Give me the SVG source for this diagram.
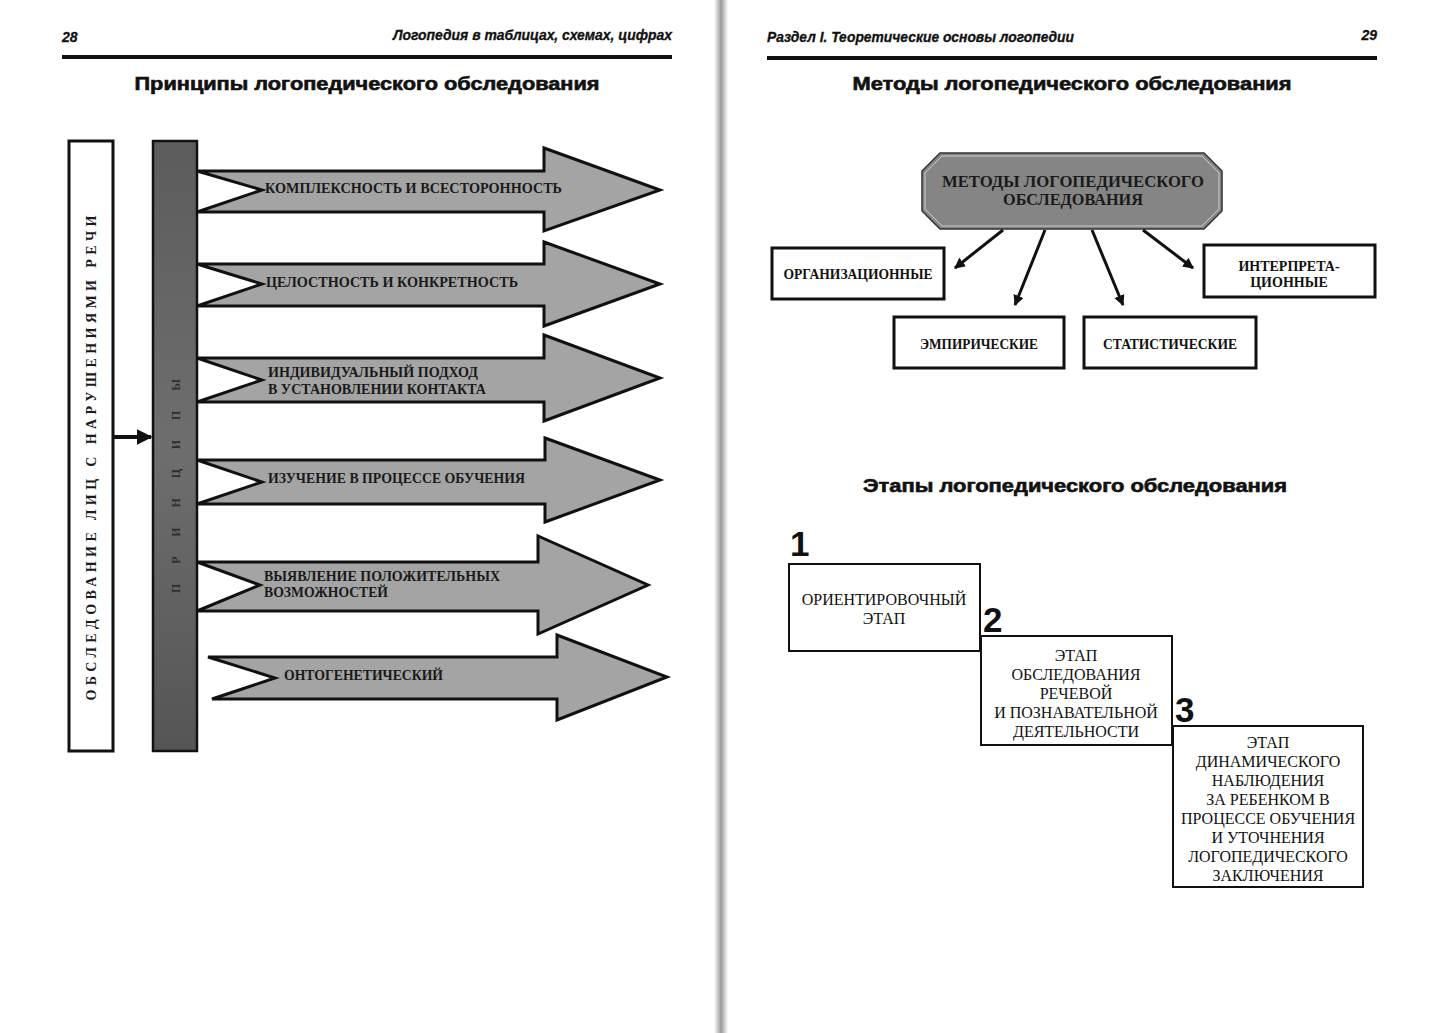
<svg xmlns="http://www.w3.org/2000/svg" width="1429" height="1033" viewBox="0 0 1429 1033">
<defs>
<marker id="ah" viewBox="0 0 10 10" refX="9" refY="5" markerWidth="4" markerHeight="4" orient="auto" markerUnits="strokeWidth">
<path d="M0,0 L10,5 L0,10 z" fill="#111"/>
</marker>
<marker id="ah2" viewBox="0 0 10 10" refX="9" refY="5" markerWidth="3.6" markerHeight="3.6" orient="auto" markerUnits="strokeWidth">
<path d="M0,0 L10,5 L0,10 z" fill="#111"/>
</marker>
<linearGradient id="gut" x1="0" x2="1" y1="0" y2="0">
<stop offset="0" stop-color="#fff"/>
<stop offset="0.5" stop-color="#9a9a9a"/>
<stop offset="1" stop-color="#fff"/>
</linearGradient>
<linearGradient id="barg" x1="0" x2="0" y1="0" y2="1">
<stop offset="0" stop-color="#5c5c5c"/>
<stop offset="0.5" stop-color="#6e6e6e"/>
<stop offset="1" stop-color="#555"/>
</linearGradient>
</defs>
<style>
.hdr{font-family:"Liberation Sans",Arial,sans-serif;font-weight:bold;font-style:italic;font-size:14px;fill:#111;stroke:#111;stroke-width:0.3}
.ttl{font-family:"Liberation Sans",Arial,sans-serif;font-weight:bold;font-size:18px;fill:#111;stroke:#111;stroke-width:0.6}
.arr{fill:#a4a4a4;stroke:#111;stroke-width:3;stroke-linejoin:miter}
.at{font-family:"Liberation Serif","Times New Roman",serif;font-weight:bold;font-size:14.5px;fill:#1a1a1a}
.box{fill:#fff;stroke:#111;stroke-width:3}
.sbox{fill:#fff;stroke:#111;stroke-width:2}
.mt{font-family:"Liberation Serif","Times New Roman",serif;font-weight:bold;font-size:14px;fill:#111;text-anchor:middle}
.st{font-family:"Liberation Serif","Times New Roman",serif;font-size:16px;fill:#111;text-anchor:middle}
.num{font-family:"Liberation Sans",Arial,sans-serif;font-weight:bold;font-size:35px;fill:#111}
.conn{stroke:#111;fill:none}
</style>
<rect x="0" y="0" width="1429" height="1033" fill="#fff"/>
<rect x="714" y="0" width="14" height="1033" fill="url(#gut)"/>

<g id="page-left-header">
<text class="hdr" x="62" y="42">28</text>
<text class="hdr" x="672" y="40" text-anchor="end" textLength="279" lengthAdjust="spacingAndGlyphs">Логопедия в таблицах, схемах, цифрах</text>
<rect x="62" y="55" width="610" height="4" fill="#111"/>
<text class="ttl" x="367" y="90" text-anchor="middle" textLength="465" lengthAdjust="spacingAndGlyphs">Принципы логопедического обследования</text>
</g>

<g id="page-right-header">
<text class="hdr" x="767" y="42" textLength="307" lengthAdjust="spacingAndGlyphs">Раздел I. Теоретические основы логопедии</text>
<text class="hdr" x="1377" y="40" text-anchor="end">29</text>
<rect x="767" y="56" width="610" height="4" fill="#111"/>
<text class="ttl" x="1072" y="90" text-anchor="middle" textLength="439" lengthAdjust="spacingAndGlyphs">Методы логопедического обследования</text>
</g>

<g id="node-obsledovanie">
<rect class="box" x="69" y="141" width="44" height="610" stroke-width="3.5"/>
<text class="at" transform="translate(96,458) rotate(-90)" text-anchor="middle" font-size="14" style="font-size:14px" textLength="485" lengthAdjust="spacing">ОБСЛЕДОВАНИЕ ЛИЦ С НАРУШЕНИЯМИ РЕЧИ</text>
</g>

<g id="node-principy">
<rect x="153" y="141" width="44" height="610" fill="url(#barg)" stroke="#111" stroke-width="2.5"/>
<text class="at" transform="translate(180,486) rotate(-90)" text-anchor="middle" textLength="214" lengthAdjust="spacing" style="fill:#2e2e2e;font-size:12px">ПРИНЦИПЫ</text>
</g>

<g id="principle-1">
<polygon class="arr" points="197,171 544,171 544,148 660,190 544,231 544,212 197,212 262,190"/>
<text class="at" x="265" y="193" textLength="297" lengthAdjust="spacingAndGlyphs">КОМПЛЕКСНОСТЬ И ВСЕСТОРОННОСТЬ</text>
</g>
<g id="principle-2">
<polygon class="arr" points="197,264 544,264 544,242 660,284 544,326 544,306 197,306 262,284"/>
<text class="at" x="266" y="287" textLength="252" lengthAdjust="spacingAndGlyphs">ЦЕЛОСТНОСТЬ И КОНКРЕТНОСТЬ</text>
</g>
<g id="principle-3">
<polygon class="arr" points="197,358 544,358 544,335 660,378 544,421 544,402 197,402 262,380"/>
<text class="at" x="268" y="377" textLength="210" lengthAdjust="spacingAndGlyphs">ИНДИВИДУАЛЬНЫЙ ПОДХОД</text>
<text class="at" x="268" y="394" textLength="218" lengthAdjust="spacingAndGlyphs">В УСТАНОВЛЕНИИ КОНТАКТА</text>
</g>
<g id="principle-4">
<polygon class="arr" points="197,460 545,460 545,438 660,480 545,522 545,504 197,504 262,482"/>
<text class="at" x="268" y="483" textLength="257" lengthAdjust="spacingAndGlyphs">ИЗУЧЕНИЕ В ПРОЦЕССЕ ОБУЧЕНИЯ</text>
</g>
<g id="principle-5">
<polygon class="arr" points="197,562 538,562 538,536 648,585 538,634 538,611 197,611 260,585"/>
<text class="at" x="264" y="581" textLength="236" lengthAdjust="spacingAndGlyphs">ВЫЯВЛЕНИЕ  ПОЛОЖИТЕЛЬНЫХ</text>
<text class="at" x="264" y="597" textLength="124" lengthAdjust="spacingAndGlyphs">ВОЗМОЖНОСТЕЙ</text>
</g>
<g id="principle-6">
<polygon class="arr" points="208,657 557,657 557,635 667,677 557,720 557,699 212,699 275,678"/>
<text class="at" x="284" y="680" textLength="159" lengthAdjust="spacingAndGlyphs">ОНТОГЕНЕТИЧЕСКИЙ</text>
</g>

<g id="node-metody">
<polygon points="940,153 1204,153 1222,171 1222,211 1204,229 940,229 922,211 922,171" fill="#858585" stroke="#333" stroke-width="1.5"/>
<polygon points="942,156 1202,156 1219,173 1219,209 1202,226 942,226 925,209 925,173" fill="none" stroke="#ccc" stroke-width="1"/>
<text class="mt" x="1073" y="187" style="font-size:16px;fill:#1a1a1a" textLength="262" lengthAdjust="spacingAndGlyphs">МЕТОДЫ ЛОГОПЕДИЧЕСКОГО</text>
<text class="mt" x="1073" y="205" style="font-size:16px;fill:#1a1a1a" textLength="140" lengthAdjust="spacingAndGlyphs">ОБСЛЕДОВАНИЯ</text>
</g>
<g id="node-org">
<rect class="box" x="772" y="248" width="172" height="51"/>
<text class="mt" x="858" y="279" textLength="149" lengthAdjust="spacingAndGlyphs">ОРГАНИЗАЦИОННЫЕ</text>
</g>
<g id="node-interp">
<rect class="box" x="1204" y="245" width="171" height="52"/>
<text class="mt" x="1289" y="271">ИНТЕРПРЕТА-</text>
<text class="mt" x="1289" y="287">ЦИОННЫЕ</text>
</g>
<g id="node-emp">
<rect class="box" x="894" y="317" width="170" height="51"/>
<text class="mt" x="979" y="349" textLength="118" lengthAdjust="spacingAndGlyphs">ЭМПИРИЧЕСКИЕ</text>
</g>
<g id="node-stat">
<rect class="box" x="1084" y="317" width="172" height="51"/>
<text class="mt" x="1170" y="349" textLength="134" lengthAdjust="spacingAndGlyphs">СТАТИСТИЧЕСКИЕ</text>
</g>

<g id="stages-title">
<text class="ttl" x="1075" y="492" text-anchor="middle" textLength="424" lengthAdjust="spacingAndGlyphs">Этапы логопедического обследования</text>
</g>
<g id="stage-1">
<text class="num" x="790" y="556">1</text>
<rect class="sbox" x="789" y="564" width="191" height="87"/>
<text class="st" x="884" y="605">ОРИЕНТИРОВОЧНЫЙ</text>
<text class="st" x="884" y="624">ЭТАП</text>
</g>
<g id="stage-2">
<text class="num" x="983" y="632">2</text>
<rect class="sbox" x="981" y="636" width="191" height="109"/>
<text class="st" x="1076" y="661">ЭТАП</text>
<text class="st" x="1076" y="680">ОБСЛЕДОВАНИЯ</text>
<text class="st" x="1076" y="699">РЕЧЕВОЙ</text>
<text class="st" x="1076" y="718">И ПОЗНАВАТЕЛЬНОЙ</text>
<text class="st" x="1076" y="737">ДЕЯТЕЛЬНОСТИ</text>
</g>
<g id="stage-3">
<text class="num" x="1175" y="722">3</text>
<rect class="sbox" x="1173" y="726" width="190" height="161"/>
<text class="st" x="1268" y="748">ЭТАП</text>
<text class="st" x="1268" y="767">ДИНАМИЧЕСКОГО</text>
<text class="st" x="1268" y="786">НАБЛЮДЕНИЯ</text>
<text class="st" x="1268" y="805">ЗА РЕБЕНКОМ В</text>
<text class="st" x="1268" y="824">ПРОЦЕССЕ ОБУЧЕНИЯ</text>
<text class="st" x="1268" y="843">И УТОЧНЕНИЯ</text>
<text class="st" x="1268" y="862">ЛОГОПЕДИЧЕСКОГО</text>
<text class="st" x="1268" y="881">ЗАКЛЮЧЕНИЯ</text>
</g>

<g id="connectors">
<line class="conn" x1="113" y1="437" x2="151" y2="437" stroke-width="4" marker-end="url(#ah)"/>
<line class="conn" x1="1003" y1="230" x2="955" y2="268" stroke-width="3" marker-end="url(#ah2)"/>
<line class="conn" x1="1045" y1="230" x2="1015" y2="305" stroke-width="3" marker-end="url(#ah2)"/>
<line class="conn" x1="1092" y1="230" x2="1123" y2="305" stroke-width="3" marker-end="url(#ah2)"/>
<line class="conn" x1="1143" y1="230" x2="1193" y2="268" stroke-width="3" marker-end="url(#ah2)"/>
</g>
</svg>
